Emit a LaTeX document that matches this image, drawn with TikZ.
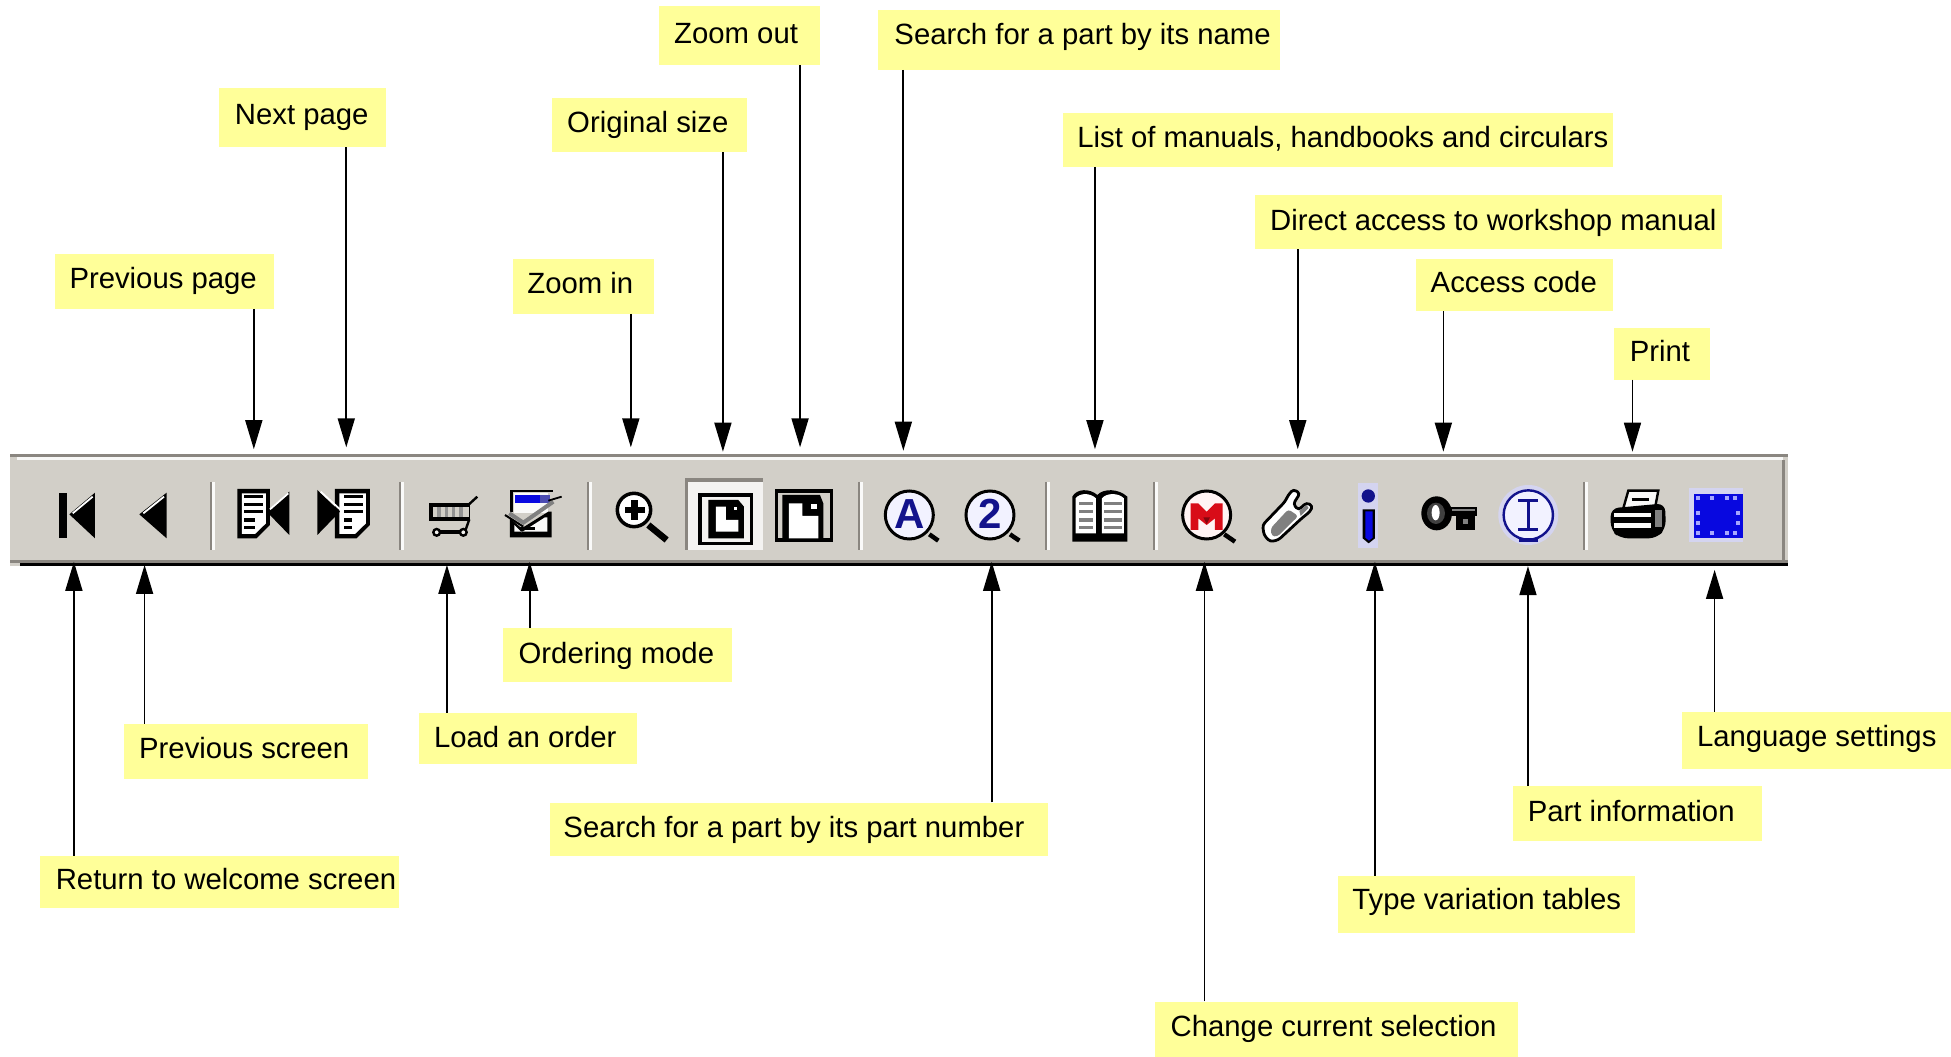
\documentclass[tikz,border=0pt]{standalone}
\usepackage{fontspec}
\setmainfont{Liberation Sans}
\usetikzlibrary{arrows.meta}
\definecolor{labelyellow}{HTML}{FFFF99}
\definecolor{barface}{HTML}{D2CFC8}
\definecolor{bardark}{HTML}{8A8680}
\definecolor{iconblue}{HTML}{0808E0}
\definecolor{navyicon}{HTML}{12128C}
\definecolor{iconred}{HTML}{D80C18}
\definecolor{lensfill}{HTML}{F2F2FF}
\definecolor{halo}{HTML}{D4D4F0}
\tikzset{
  labbox/.style={fill=labelyellow,inner sep=0pt},
  labtext/.style={inner sep=0pt,anchor=west,font=\fontsize{29.3}{32}\selectfont},
  arr/.style={-{Triangle[length=29pt,width=17pt]},line width=1.7pt,black},
  cropat/.style={x=0.33333pt,y=-0.33333pt,shift={(#1pt,-470pt)}},
  cropxy/.style 2 args={x=0.33333pt,y=-0.33333pt,shift={(#1pt,-#2pt)}},
  sepline/.style={bardark,line width=2.8pt},
  sephi/.style={white!90!barface,line width=2.4pt},
  lens/.style={draw=black,line width=3pt,fill=lensfill},
  handle/.style={black,line width=4.5pt},
  iconglyph/.style={inner sep=0pt,font=\fontsize{#1}{#1}\selectfont\bfseries},
}
% name, x1, y1, x2, y2, text x, text y, text
\newcommand\lab[8]{%
  \pgfmathsetmacro\lw{(#4-#2)*1.2443}%
  \pgfmathsetmacro\lh{(#5-#3)*1.2443}%
  \node[labbox,minimum width=\lw pt,minimum height=\lh pt,anchor=center] (#1) at ({(#2+#4)/2},{(#3+#5)/2}) {};
  \node[labtext] at ({#6-0.3},{#7+2.7}) {\strut #8};
}
% separator at image x in pixels
\newcommand\upsep[1]{%
  \draw[sepline] (#1pt,-482pt) -- (#1pt,-550pt);
  \draw[sephi] ({#1+2.6pt},-482pt) -- ({#1+2.6pt},-550pt);
}
\begin{document}
\begin{tikzpicture}[x=1.2443pt,y=-1.2443pt]
\useasboundingbox (0,0) rectangle (1568,848.7);
% toolbar
\fill[barface] (8,365) rectangle (1437,455);
\fill[bardark] (8,365) rectangle (1437,367.5);
\fill[white!85!barface] (14,367.5) rectangle (1433,370);
\fill[bardark] (8,450) rectangle (1437,452.5);
\fill[black] (16,452.5) rectangle (1437,455);
\fill[bardark] (1432,370) rectangle (1434.5,450);
\upsep{211}\upsep{400}\upsep{588}\upsep{859}\upsep{1046}\upsep{1154}\upsep{1584}
% ---- crop 1
\begin{scope}[cropat=40]
% first
\fill[black] (57,68) rectangle (80,205);
\fill[black] (88,133) -- (165,68) -- (165,205) -- cycle;
\draw[white,line width=1.8pt] (98,130) -- (158,80);
% prev
\fill[black] (298,133) -- (380,68) -- (380,205) -- cycle;
\draw[white,line width=1.8pt] (310,130) -- (372,80);
% prev page
\fill[black] (592,57) -- (690,57) -- (690,165) -- (650,205) -- (592,205) -- cycle;
\fill[white] (606,70) -- (678,70) -- (678,160) -- (645,192) -- (606,192) -- cycle;
\foreach \yy in {80,103,125}{\fill[black] (612,\yy-5) rectangle (668,\yy+5);}
\foreach \yy in {150,172}{\fill[black] (612,\yy-5) rectangle (645,\yy+5);}
\fill[black] (680,125) -- (748,65) -- (748,195) -- cycle;
\draw[white,line width=1.8pt] (690,118) -- (745,70);
% next page
\fill[black] (885,57) -- (990,57) -- (990,165) -- (950,205) -- (885,205) -- cycle;
\fill[white] (898,70) -- (978,70) -- (978,160) -- (945,192) -- (898,192) -- cycle;
\foreach \yy in {80,103,125}{\fill[black] (912,\yy-5) rectangle (970,\yy+5);}
\foreach \yy in {150,172}{\fill[black] (912,\yy-5) rectangle (935,\yy+5);}
\fill[black] (832,60) -- (900,125) -- (832,195) -- cycle;
\draw[white,line width=1.8pt] (842,65) -- (900,118);
\end{scope}
% ---- cart and ordering icon
\begin{scope}[cropxy={420}{480}]
% cart
\fill[black] (28,68) rectangle (150,122);
\fill[barface] (38,80) rectangle (146,110);
\foreach \xx in {52,74,96,118}{\fill[gray!85] (\xx,80) rectangle (\xx+10,110);}
\draw[black,line width=2.4pt] (148,72) -- (172,50);
\draw[black,line width=2.4pt] (148,118) -- (135,155);
\fill[black] (50,151) rectangle (130,162);
\draw[black,line width=2.4pt,fill=white!70!barface] (50,157) circle[radius=10];
\draw[black,line width=2.4pt,fill=white!70!barface] (130,157) circle[radius=10];
% ordering icon
\fill[white!90!barface] (282,38) rectangle (385,100);
\fill[iconblue] (285,46) rectangle (360,70);
\fill[gray!60!blue] (360,46) rectangle (390,70);
\draw[black,line width=2.6pt] (275,95) -- (275,33) -- (400,33);
\fill[black] (270,115) -- (305,145) -- (385,95) -- (395,95) -- (395,172) -- (270,172) -- cycle;
\fill[white!90!barface] (283,135) -- (305,157) -- (375,112) -- (382,112) -- (382,155) -- (283,155) -- cycle;
\fill[black] (300,142) rectangle (345,150);
\draw[black,line width=2pt] (255,105) -- (310,140);
\draw[gray,line width=4pt] (268,100) -- (310,128) -- (400,65);
\draw[black,line width=1.8pt] (385,62) -- (425,50);
\end{scope}
% ---- magnifier and button
\begin{scope}[cropat=410]
\draw[handle,line width=6.5pt] (715,165) -- (770,210);
\draw[draw=black,line width=3.5pt,fill=white] (672,120) circle[radius=50];
\fill[black] (662,90) rectangle (684,150);
\fill[black] (645,110) rectangle (705,130);
\fill[white!75!barface] (825,25) rectangle (1060,240);
\fill[bardark] (825,25) rectangle (1060,35);
\fill[bardark] (825,25) rectangle (835,240);
\draw[black,line width=3.2pt] (870,75) rectangle (1025,220);
\fill[black] (895,90) -- (985,90) -- (1002,110) -- (1002,205) -- (895,205) -- cycle;
\fill[white] (918,110) -- (948,110) -- (948,150) -- (985,150) -- (985,185) -- (918,185) -- cycle;
\fill[white] (972,112) rectangle (980,120);
\end{scope}
% ---- zoomed-out page
\begin{scope}[cropxy={765}{480}]
\fill[black] (30,28) rectangle (205,185);
\fill[barface] (40,38) rectangle (195,175);
\fill[black] (52,45) -- (165,45) -- (175,70) -- (175,175) -- (52,175) -- cycle;
\fill[white] (72,70) -- (112,70) -- (112,108) -- (160,108) -- (160,175) -- (72,175) -- cycle;
\fill[white] (138,72) rectangle (156,88);
\end{scope}
% ---- crop 3
\begin{scope}[cropat=870]
% A
\draw[handle] (178,193) -- (205,212);
\draw[lens] (118,135) circle[radius=72];
\node[iconglyph=42,text=navyicon] (glyphA) at (118,132) {A};
% 2
\draw[handle] (420,193) -- (448,212);
\draw[lens] (360,135) circle[radius=72];
\node[iconglyph=42,text=navyicon] (glyph2) at (360,132) {2};
% book
\fill[black] (607,80) .. controls (620,55) and (660,55) .. (682,75) .. controls (700,55) and (745,55) .. (772,80) -- (772,215) -- (607,215) -- cycle;
\fill[white] (617,85) .. controls (630,68) and (660,68) .. (678,85) -- (678,190) -- (617,190) -- cycle;
\fill[white] (696,85) .. controls (710,68) and (745,68) .. (762,85) -- (762,190) -- (696,190) -- cycle;
\foreach \yy in {100,125,150,172}{
  \fill[gray] (627,\yy-5) rectangle (670,\yy+5);
  \fill[gray] (703,\yy-5) rectangle (755,\yy+5);}
\end{scope}
% ---- M and clip
\begin{scope}[cropxy={1170}{480}]
\draw[handle] (163,163) -- (195,185);
\draw[lens,fill=white!82!pink] (110,105) circle[radius=72];
\fill[iconred] (62,70) -- (85,70) -- (110,95) -- (135,70) -- (158,70) -- (158,150) -- (135,150) -- (135,115) -- (110,135) -- (85,115) -- (85,150) -- (62,150) -- cycle;
\fill[iconred!60!black] (100,112) -- (120,112) -- (110,132) -- cycle;
% clip
\draw[black,line width=2.8pt,fill=white,rounded corners=3pt] (278,135) -- (345,65) -- (355,45) -- (370,28) -- (390,40) -- (370,72) -- (385,90) -- (410,68) -- (428,78) -- (420,95) -- (395,115) -- (325,180) -- (300,185) -- (282,165) -- cycle;
\fill[gray,rounded corners=3pt] (302,145) -- (355,88) -- (385,108) -- (322,170) -- (305,168) -- cycle;
\fill[gray] (388,92) -- (410,75) -- (416,84) -- (392,108) -- cycle;
\end{scope}
% ---- crop 4
\begin{scope}[cropat=1240]
% i
\fill[halo] (355,40) rectangle (415,235);
\fill[navyicon] (385,78) circle[radius=20];
\fill[black] (368,118) -- (405,118) -- (405,205) -- (386,220) -- (368,205) -- cycle;
\fill[iconblue] (376,124) -- (398,124) -- (398,203) -- (387,212) -- (376,203) -- cycle;
\end{scope}
% ---- crop 5
\begin{scope}[cropat=1400]
% key
\fill[black] (110,130) ellipse[x radius=46,y radius=51];
\fill[gray!50!black] (108,130) ellipse[x radius=27,y radius=32];
\fill[white] (107,128) ellipse[x radius=12,y radius=23];
\fill[black] (150,110) rectangle (232,137);
\fill[gray] (155,117) rectangle (225,122);
\fill[black] (168,137) rectangle (195,180);
\fill[black] (195,137) rectangle (225,180);
\fill[gray] (188,148) rectangle (205,162);
% I
\fill[halo] (385,135) circle[radius=90];
\draw[navyicon,line width=2.4pt,fill=lensfill] (385,135) circle[radius=74];
\fill[navyicon] (357,205) rectangle (413,216);
\draw[navyicon,line width=2.8pt] (355,92) -- (415,92) (385,92) -- (385,178) (355,178) -- (415,178);
% printer
\draw[black,line width=2.4pt,fill=white!85!barface] (685,62) -- (775,62) -- (765,115) -- (670,115) -- cycle;
\draw[black,line width=2.4pt] (695,88) -- (748,88);
\fill[black,rounded corners=8pt] (632,115) -- (795,100) -- (798,175) -- (770,205) -- (660,205) -- (632,180) -- cycle;
\fill[white!90!barface] (642,128) rectangle (752,142);
\fill[white!90!barface] (642,160) rectangle (752,174);
\fill[gray] (765,120) rectangle (785,170);
% language
\fill[halo] (866,55) rectangle (1030,215);
\fill[iconblue] (882,72) rectangle (1028,205);
\foreach \xx in {895,935,980,1005}{\foreach \yy in {85,190}{\fill[white!65!blue] (\xx-6,\yy-6) rectangle (\xx+6,\yy+6);}}
\foreach \xx in {895,1015}{\foreach \yy in {130,160}{\fill[white!65!blue] (\xx-6,\yy-6) rectangle (\xx+6,\yy+6);}}
\end{scope}
% labels
\lab{zoomout}{530}{5}{659}{52}{542}{27}{Zoom out}
\lab{byname}{706}{8}{1029}{56}{719}{28}{Search for a part by its name}
\lab{nextpage}{176}{71}{310}{118}{189}{92}{Next page}
\lab{origsize}{444}{79}{600}{122}{456}{99}{Original size}
\lab{manuals}{854}{91}{1296}{134}{866}{111}{List of manuals, handbooks and circulars}
\lab{direct}{1009}{157}{1384}{200}{1021}{177}{Direct access to workshop manual}
\lab{prevpage}{44}{204}{220}{248}{56}{224}{Previous page}
\lab{zoomin}{412}{208}{526}{252}{424}{228}{Zoom in}
\lab{access}{1138}{208}{1296}{250}{1150}{227}{Access code}
\lab{print}{1297}{264}{1374}{305}{1310}{283}{Print}
\lab{ordering}{404}{505}{588}{548}{417}{525}{Ordering mode}
\lab{prevscreen}{100}{582}{296}{626}{112}{602}{Previous screen}
\lab{loadorder}{337}{573}{512}{614}{349}{593}{Load an order}
\lab{language}{1352}{572}{1568}{618}{1364}{592}{Language settings}
\lab{partinfo}{1216}{632}{1416}{676}{1228}{652}{Part information}
\lab{bynumber}{442}{645}{842}{688}{453}{665}{Search for a part by its part number}
\lab{welcome}{32}{688}{321}{730}{45}{707}{Return to welcome screen}
\lab{typevar}{1075}{704}{1314}{750}{1087}{723}{Type variation tables}
\lab{change}{928}{805}{1220}{850}{941}{825}{Change current selection}
% arrow tips
\coordinate (tPrevPage) at (204,361);
\coordinate (tNextPage) at (278.3,359.5);
\coordinate (tZoomIn) at (507,359.5);
\coordinate (tOrig) at (581,363);
\coordinate (tZoomOut) at (643,359.5);
\coordinate (tByName) at (726,362.2);
\coordinate (tManuals) at (880,361);
\coordinate (tDirect) at (1043,361);
\coordinate (tAccess) at (1160,363);
\coordinate (tPrint) at (1312,363);
\coordinate (tWelcome) at (59.4,451.5);
\coordinate (tPrevScreen) at (116.2,454);
\coordinate (tLoad) at (359.2,454);
\coordinate (tOrdering) at (425.7,451.5);
\coordinate (tByNumber) at (797,451.5);
\coordinate (tChange) at (968,451.5);
\coordinate (tType) at (1105,451.5);
\coordinate (tPartInfo) at (1228,455);
\coordinate (tLang) at (1378,458);
\draw[arr] (prevpage.south -| tPrevPage) -- (tPrevPage);
\draw[arr] (nextpage.south -| tNextPage) -- (tNextPage);
\draw[arr] (zoomin.south -| tZoomIn) -- (tZoomIn);
\draw[arr] (origsize.south -| tOrig) -- (tOrig);
\draw[arr] (zoomout.south -| tZoomOut) -- (tZoomOut);
\draw[arr] (byname.south -| tByName) -- (tByName);
\draw[arr] (manuals.south -| tManuals) -- (tManuals);
\draw[arr] (direct.south -| tDirect) -- (tDirect);
\draw[arr] (access.south -| tAccess) -- (tAccess);
\draw[arr] (print.south -| tPrint) -- (tPrint);
\draw[arr] (welcome.north -| tWelcome) -- (tWelcome);
\draw[arr] (prevscreen.north -| tPrevScreen) -- (tPrevScreen);
\draw[arr] (loadorder.north -| tLoad) -- (tLoad);
\draw[arr] (ordering.north -| tOrdering) -- (tOrdering);
\draw[arr] (bynumber.north -| tByNumber) -- (tByNumber);
\draw[arr] (change.north -| tChange) -- (tChange);
\draw[arr] (typevar.north -| tType) -- (tType);
\draw[arr] (partinfo.north -| tPartInfo) -- (tPartInfo);
\draw[arr] (language.north -| tLang) -- (tLang);
\end{tikzpicture}
\end{document}
